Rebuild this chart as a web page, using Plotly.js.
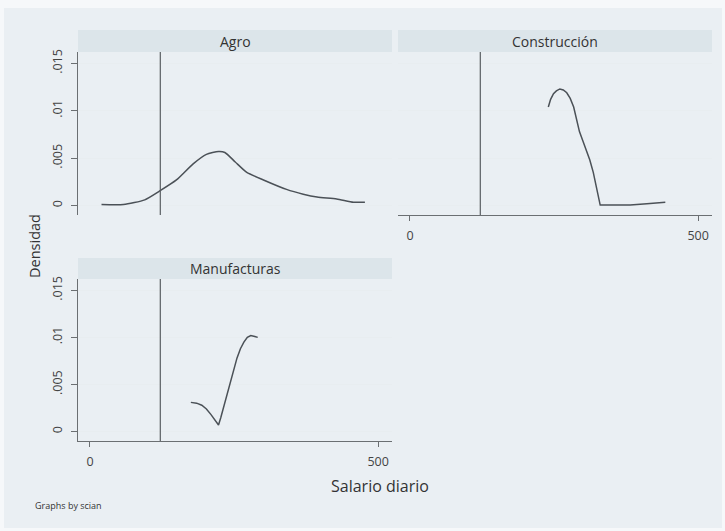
<!DOCTYPE html>
<html>
<head>
<meta charset="utf-8">
<script src="https://cdn.plot.ly/plotly-3.0.1.min.js"></script>
<style>html,body{margin:0;padding:0;background:#fff;}#chart{width:725px;height:531px;}</style>
</head>
<body>
<div id="chart"></div>
<script>
const panelTitles = ["Agro", "Construcción", "Manufacturas"];
const xAgro = [20, 58, 95, 120, 150, 179, 202, 223, 234, 252, 272, 301, 341, 370, 394, 428, 457, 477];
const yAgro = [0.0001, 0.0001, 0.0006, 0.0015, 0.0027, 0.0044, 0.0054, 0.0057, 0.0056, 0.0046, 0.0035, 0.0027, 0.0017, 0.0012, 0.0009, 0.0007, 0.00035, 0.00035];
const xCons = [240, 244, 249, 254, 260, 266, 272, 278, 284, 289, 294, 300, 306, 312, 318, 323, 327, 330, 353, 382, 411, 443];
const yCons = [0.0104, 0.0112, 0.0118, 0.0121, 0.0123, 0.0122, 0.0119, 0.0113, 0.0104, 0.0092, 0.0078, 0.0068, 0.0059, 0.0048, 0.0035, 0.0020, 0.0008, 0.00005, 0.00005, 0.00005, 0.0002, 0.00035];
const xManu = [175, 185, 194, 202, 210, 217, 223, 227, 232, 237, 243, 249, 255, 261, 267, 273, 279, 286, 291];
const yManu = [0.0031, 0.00302, 0.0028, 0.0024, 0.0018, 0.0012, 0.0007, 0.0015, 0.0026, 0.0039, 0.0052, 0.0066, 0.0078, 0.0088, 0.0095, 0.0100, 0.0102, 0.0101, 0.0100];
const vlineX = 122;
const yTickVals = [0, 0.005, 0.01, 0.015];
const yTickText = ["0", ".005", ".01", ".015"];
const xTickVals = [0, 500];
const xTickText = ["0", "500"];

const W = 725, H = 531;
const px = v => v / W;
const py = v => 1 - v / H;

const fam = "Open Sans, DejaVu Sans, sans-serif";
const lineColor = "#4b5157";
const axisColor = "#6b6f72";
const tickFont = {family: fam, size: 12.5, color: "#444"};

const traces = [
  {x: xAgro, y: yAgro, xaxis: "x", yaxis: "y", mode: "lines", line: {color: lineColor, width: 1.5, shape: "spline", smoothing: 0.6}, hoverinfo: "skip"},
  {x: xCons, y: yCons, xaxis: "x2", yaxis: "y2", mode: "lines", line: {color: lineColor, width: 1.5}, hoverinfo: "skip"},
  {x: xManu, y: yManu, xaxis: "x3", yaxis: "y3", mode: "lines", line: {color: lineColor, width: 1.5}, hoverinfo: "skip"}
];

const xr = [-20.8, 524];
const yr = [-0.001, 0.0162];

function yax(domain, showLabels, anchor) {
  return {
    domain: domain, range: yr, anchor: anchor, fixedrange: true,
    tickvals: yTickVals, ticktext: yTickText, tickangle: -90,
    showticklabels: showLabels, ticks: showLabels ? "outside" : "", ticklen: 6, tickcolor: axisColor,
    ticklabelstandoff: 4,
    showline: showLabels, linecolor: axisColor, linewidth: 1,
    showgrid: true, gridcolor: "#e8edf0", gridwidth: 1, zeroline: false,
    tickfont: tickFont
  };
}
function xax(domain, showLabels, anchor) {
  return {
    domain: domain, range: xr, anchor: anchor, fixedrange: true,
    tickvals: xTickVals, ticktext: xTickText,
    showticklabels: showLabels, ticks: showLabels ? "outside" : "", ticklen: 5, tickcolor: axisColor,
    ticklabelstandoff: 4,
    showline: showLabels, linecolor: axisColor, linewidth: 1,
    showgrid: false, zeroline: false, tickfont: tickFont
  };
}

const dTop = [py(215), py(52)];
const dBot = [py(441), py(279)];
const dLeft = [px(78), px(392)];
const dRight = [px(398), px(712)];

const shapes = [
  {type: "rect", xref: "paper", yref: "paper", x0: px(4), x1: px(722), y0: py(528), y1: py(8), fillcolor: "#eaeff3", line: {width: 0}, layer: "below"},
  {type: "rect", xref: "paper", yref: "paper", x0: dLeft[0], x1: dLeft[1], y0: py(52), y1: py(30), fillcolor: "#dce5ea", line: {width: 0}, layer: "below"},
  {type: "rect", xref: "paper", yref: "paper", x0: dRight[0], x1: dRight[1], y0: py(52), y1: py(30), fillcolor: "#dce5ea", line: {width: 0}, layer: "below"},
  {type: "rect", xref: "paper", yref: "paper", x0: dLeft[0], x1: dLeft[1], y0: py(279), y1: py(258), fillcolor: "#dce5ea", line: {width: 0}, layer: "below"},
  {type: "line", xref: "x", yref: "y domain", x0: vlineX, x1: vlineX, y0: 0, y1: 1, line: {color: "#5a5e62", width: 1.2}},
  {type: "line", xref: "x2", yref: "y2 domain", x0: vlineX, x1: vlineX, y0: 0, y1: 1, line: {color: "#5a5e62", width: 1.2}},
  {type: "line", xref: "x3", yref: "y3 domain", x0: vlineX, x1: vlineX, y0: 0, y1: 1, line: {color: "#5a5e62", width: 1.2}}
];

const titleFont = {family: fam, size: 14, color: "#333"};
const annotations = [
  {text: panelTitles[0], xref: "paper", yref: "paper", x: (dLeft[0] + dLeft[1]) / 2, y: py(41), xanchor: "center", yanchor: "middle", showarrow: false, font: titleFont},
  {text: panelTitles[1], xref: "paper", yref: "paper", x: (dRight[0] + dRight[1]) / 2, y: py(41), xanchor: "center", yanchor: "middle", showarrow: false, font: titleFont},
  {text: panelTitles[2], xref: "paper", yref: "paper", x: (dLeft[0] + dLeft[1]) / 2, y: py(268.5), xanchor: "center", yanchor: "middle", showarrow: false, font: titleFont},
  {text: "Densidad", xref: "paper", yref: "paper", x: px(35), y: py(246), xanchor: "center", yanchor: "middle", textangle: -90, showarrow: false, font: {family: fam, size: 14.5, color: "#333"}},
  {text: "Salario diario", xref: "paper", yref: "paper", x: px(380), y: py(486), xanchor: "center", yanchor: "middle", showarrow: false, font: {family: fam, size: 16, color: "#333"}},
  {text: "Graphs by scian", xref: "paper", yref: "paper", x: px(33), y: py(505), xanchor: "left", yanchor: "middle", showarrow: false, font: {family: fam, size: 9, color: "#333"}}
];

const layout = {
  width: W, height: H,
  margin: {l: 0, r: 0, t: 0, b: 0},
  paper_bgcolor: "#f6f8fa",
  plot_bgcolor: "#ffffff",
  showlegend: false,
  xaxis: xax(dLeft, false, "y"),
  yaxis: yax(dTop, true, "x"),
  xaxis2: xax(dRight, true, "y2"),
  yaxis2: yax(dTop, false, "x2"),
  xaxis3: xax(dLeft, true, "y3"),
  yaxis3: yax(dBot, true, "x3"),
  shapes: shapes,
  annotations: annotations
};

Plotly.newPlot("chart", traces, layout, {displayModeBar: false, staticPlot: true});
</script>
</body>
</html>
